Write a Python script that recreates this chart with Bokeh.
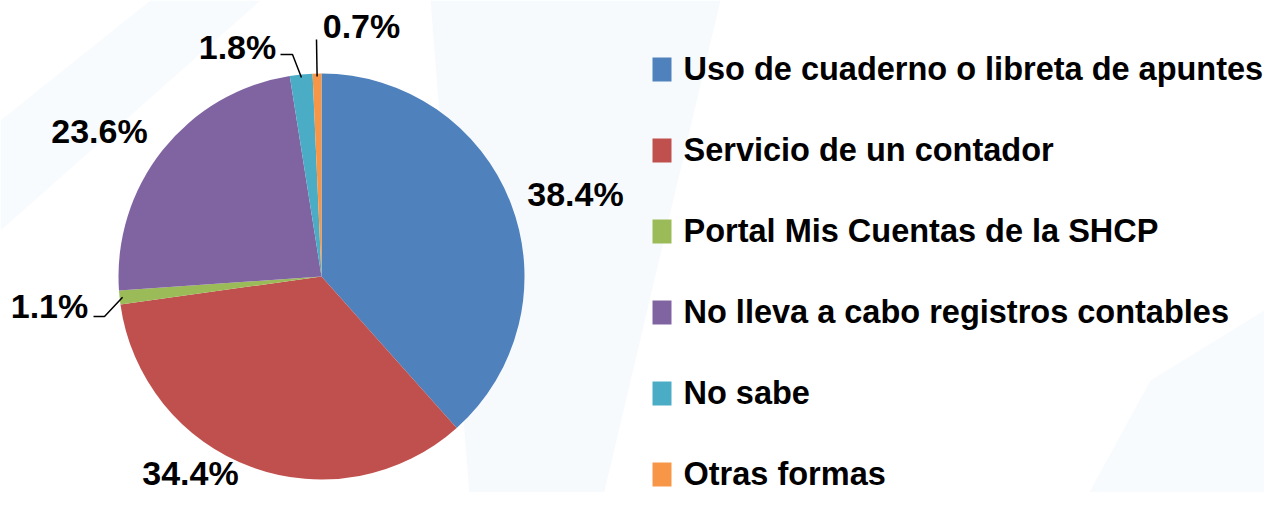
import numpy as np
from bokeh.plotting import figure
from bokeh.models import Range1d, ColumnDataSource
from bokeh.core.properties import value
from bokeh.embed import file_html
from bokeh.resources import INLINE

# ---- data ----
categories = [
    "Uso de cuaderno o libreta de apuntes",
    "Servicio de un contador",
    "Portal Mis Cuentas de la SHCP",
    "No lleva a cabo registros contables",
    "No sabe",
    "Otras formas",
]
percentages = [38.4, 34.4, 1.1, 23.6, 1.8, 0.7]
colors = ["#4F81BD", "#C0504D", "#9BBB59", "#8064A2", "#4BACC6", "#F79646"]

# ---- layout (reference pixel coordinates, y downwards) ----
REF_H = 508
def Y(v):
    return REF_H - v

CX, CY, R = 321, 276, 203
label_pos = [(575, 193), (190, 472), (49, 305), (99, 130), (237, 46), (361, 25)]
# leader lines: outer points (label side); inner end computed on the slice edge
leaders = {2: [(93, 316), (104, 316)], 4: [(280, 54), (292, 54)], 5: [(316, 39)]}
LEG_X, LEG_Y0, LEG_STEP = 661.5, 69, 81
FONT = value("Liberation Sans")

p = figure(width=1264, height=492, x_range=Range1d(0, 1264), y_range=Range1d(16, 508),
           output_backend="svg", toolbar_location=None, min_border=0,
           x_axis_location=None, y_axis_location=None)
p.grid.visible = False
p.outline_line_color = None
p.background_fill_color = "white"
p.border_fill_color = "white"

# faint decorative background
p.patch([430, 720, 600, 470], [Y(0), Y(0), Y(508), Y(508)], fill_color="#f1f7fb", fill_alpha=0.6, line_color=None)
p.patch([150, 260, 0, 0], [Y(0), Y(0), Y(230), Y(120)], fill_color="#f1f7fb", fill_alpha=0.5, line_color=None)
p.patch([1080, 1280, 1280, 1150], [Y(508), Y(508), Y(300), Y(380)], fill_color="#f1f7fb", fill_alpha=0.5, line_color=None)

# pie
vals = np.array(percentages, dtype=float)
total = vals.sum()
cum = np.concatenate([[0], np.cumsum(vals)])
start = np.pi / 2 - 2 * np.pi * cum[:-1] / total
end = np.pi / 2 - 2 * np.pi * cum[1:] / total
src = ColumnDataSource(dict(start=start, end=end, color=colors))
p.wedge(x=CX, y=Y(CY), radius=R, start_angle="start", end_angle="end", direction="clock",
        fill_color="color", line_color=None, source=src)

# leader lines
mid = (start + end) / 2
for i, pts in leaders.items():
    ex = CX + (R - 3) * np.cos(mid[i])
    ey = Y(CY) + (R - 3) * np.sin(mid[i])
    xs = [q[0] for q in pts] + [ex]
    ys = [Y(q[1]) for q in pts] + [ey]
    p.line(xs, ys, line_color="black", line_width=1.5)

# data labels
p.text(x=[q[0] for q in label_pos], y=[Y(q[1]) for q in label_pos],
       text=[f"{v}%" for v in percentages], text_font=FONT, text_font_style="bold",
       text_font_size="34px", text_align="center", text_baseline="middle", text_color="black")

# legend
ly = [Y(LEG_Y0 + i * LEG_STEP) for i in range(len(categories))]
p.rect(x=[LEG_X] * len(categories), y=ly, width=19, height=24, fill_color=colors, line_color=None)
p.text(x=[683] * len(categories), y=[v + 1 for v in ly], text=categories, text_font=FONT,
       text_font_style="bold", text_font_size="32.5px", text_align="left", text_baseline="middle",
       text_color="black")

open("out.html", "w").write(file_html(p, INLINE))
